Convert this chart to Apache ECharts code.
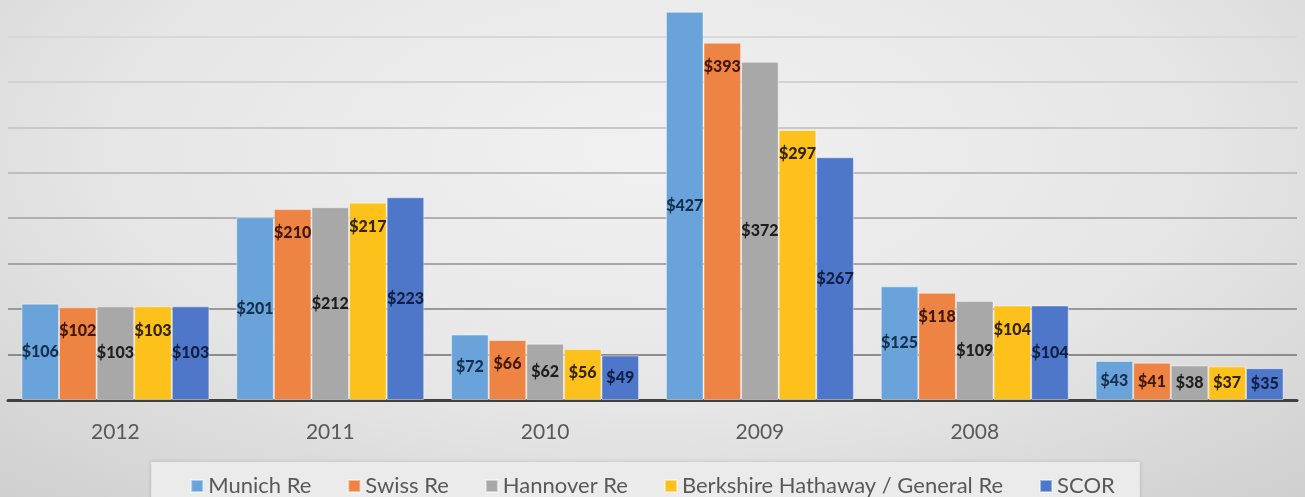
<!DOCTYPE html>
<html>
<head>
<meta charset="utf-8">
<script src="https://cdn.jsdelivr.net/npm/echarts@6/dist/echarts.min.js"></script>
<style>
html,body{margin:0;padding:0;}
#chart{width:1305px;height:497px;background:radial-gradient(ellipse 75% 95% at 50% 30%, #f1f1f1 0%, #e6e6e6 55%, #cfcfcf 100%);}
</style>
</head>
<body>
<div id="chart"></div>
<script>
const categories = ['2012', '2011', '2010', '2009', '2008', ''];
const seriesNames = ['Munich Re', 'Swiss Re', 'Hannover Re', 'Berkshire Hathaway / General Re', 'SCOR'];
const munichRe = [106, 201, 72, 427, 125, 43];
const swissRe = [102, 210, 66, 393, 118, 41];
const hannoverRe = [103, 212, 62, 372, 109, 38];
const berkshire = [103, 217, 56, 297, 104, 37];
const scor = [103, 223, 49, 267, 104, 35];

const values = [munichRe, swissRe, hannoverRe, berkshire, scor];
const colors = ['#6aa3da', '#ee8443', '#a8a8a8', '#fcc21b', '#4e77c9'];
const labelColors = ['#14304f', '#421702', '#1e1e1e', '#332400', '#101f45'];
const labelPos = ['inside', 'insideTop', 'inside', 'insideTop', 'inside'];

const chart = echarts.init(document.getElementById('chart'), null, {renderer: 'canvas'});

const series = values.map((arr, i) => ({
  name: seriesNames[i],
  type: 'bar',
  barGap: '0%',
  barCategoryGap: '12.5%',
  itemStyle: {color: colors[i], borderColor: 'rgba(255,255,255,0.45)', borderWidth: 1},
  label: {
    show: true,
    position: labelPos[i],
    distance: labelPos[i] === 'insideTop' ? 16 : 5,
    formatter: p => '$' + p.value,
    color: labelColors[i],
    fontFamily: 'Lato',
    fontWeight: 900,
    fontSize: 16
  },
  data: arr.map((v, j) => j === categories.length - 1 ? {value: v, label: {position: 'inside'}} : v)
}));

chart.setOption({
  backgroundColor: 'transparent',
  animation: false,
  textStyle: {fontFamily: 'Lato'},
  grid: {left: 8, right: 8, top: 0, bottom: 97, containLabel: false},
  legend: {
    data: seriesNames,
    top: 462,
    left: 'center',
    icon: 'rect',
    itemWidth: 12,
    itemHeight: 12,
    itemGap: 36,
    padding: [13, 25, 20, 39],
    backgroundColor: '#ebebeb',
    shadowColor: 'rgba(0,0,0,0.15)',
    shadowBlur: 4,
    textStyle: {color: '#595959', fontSize: 22, fontFamily: 'Lato'}
  },
  xAxis: {
    type: 'category',
    data: categories,
    axisLine: {lineStyle: {color: '#404040', width: 3}},
    axisTick: {show: false},
    axisLabel: {color: '#595959', fontSize: 21, margin: 22, fontFamily: 'Lato'}
  },
  yAxis: {
    type: 'value',
    min: 0,
    max: 440,
    interval: 50,
    axisLabel: {show: false},
    axisLine: {show: false},
    axisTick: {show: false},
    splitLine: {lineStyle: {width: 2, color: ['#8c8c8c', '#8c8c8c', '#999999', '#a5a5a5', '#b0b0b0', '#bdbdbd', '#c8c8c8', '#d2d2d2', '#d8d8d8', 'transparent']}}
  },
  series: series
});
</script>
</body>
</html>
